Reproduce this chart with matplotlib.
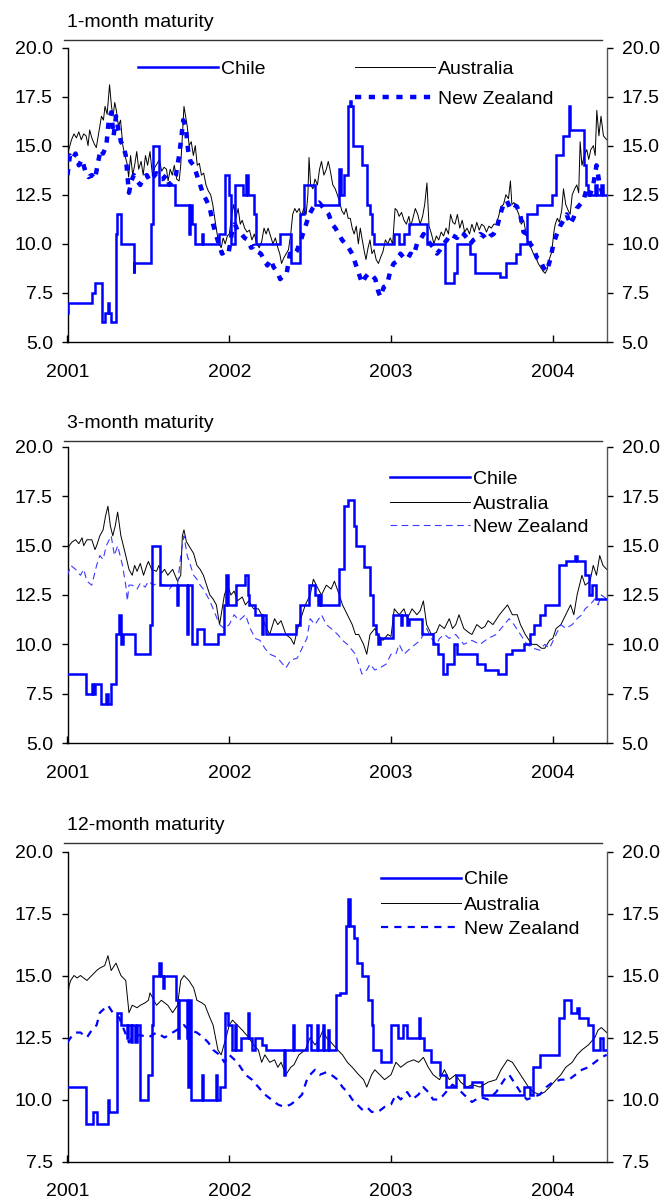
import matplotlib
matplotlib.use("Agg")
import matplotlib.pyplot as plt
from matplotlib.lines import Line2D

plt.rcParams['font.family'] = ['Liberation Sans', 'DejaVu Sans']
plt.rcParams['font.size'] = 14

W, H = 665, 1203

year_ticks = [2001, 2002, 2003, 2004]
series_names = ["Chile", "Australia", "New Zealand"]
panel_titles = ["1-month maturity", "3-month maturity", "12-month maturity"]

# ---------------- 1-month maturity ----------------
chile_1m_t = [2001.000, 2001.004, 2001.153, 2001.168, 2001.215, 2001.232, 2001.250, 2001.256,
              2001.266, 2001.300, 2001.308, 2001.330, 2001.408, 2001.414, 2001.515, 2001.530,
              2001.566, 2001.662, 2001.752, 2001.758, 2001.770, 2001.790, 2001.830, 2001.836,
              2001.935, 2001.971, 2001.996, 2002.008, 2002.033, 2002.082, 2002.106, 2002.118,
              2002.151, 2002.165, 2002.313, 2002.384, 2002.436, 2002.462, 2002.528, 2002.677,
              2002.690, 2002.710, 2002.737, 2002.745, 2002.752, 2002.765, 2002.820, 2002.850,
              2002.870, 2002.880, 2002.895, 2003.016, 2003.047, 2003.078, 2003.109, 2003.222,
              2003.335, 2003.390, 2003.410, 2003.490, 2003.520, 2003.675, 2003.710, 2003.770,
              2003.800, 2003.840, 2003.900, 2003.995, 2004.020, 2004.066, 2004.098, 2004.106,
              2004.190, 2004.205, 2004.220, 2004.260, 2004.275, 2004.300, 2004.310, 2004.335]
chile_1m_v = [6.5, 7.0, 7.5, 8.0, 6.0, 6.5, 7.0, 6.5,
              6.0, 10.5, 11.5, 10.0, 8.5, 9.0, 11.0, 15.0,
              13.0, 12.0, 10.5, 12.0, 11.0, 10.0, 10.5, 10.0,
              10.5, 13.5, 12.5, 10.0, 13.0, 12.5, 13.5, 12.5,
              11.5, 10.0, 10.5, 9.0, 11.5, 13.0, 12.0, 13.8,
              12.5, 13.5, 17.0, 17.3, 17.0, 15.0, 14.0, 12.0,
              11.5, 10.5, 10.0, 10.5, 10.0, 10.5, 11.0, 10.0,
              8.0, 8.5, 10.0, 9.5, 8.5, 8.3, 9.0, 9.5,
              10.0, 11.5, 12.0, 12.5, 14.5, 15.5, 17.0, 15.8,
              14.0, 13.0, 12.5, 13.0, 12.5, 13.0, 12.5, 12.5]

aus_1m_t = [2001.000, 2001.008, 2001.025, 2001.040, 2001.055, 2001.070, 2001.085, 2001.100,
            2001.115, 2001.127, 2001.137, 2001.150, 2001.165, 2001.178, 2001.190, 2001.200,
            2001.210, 2001.222, 2001.232, 2001.245, 2001.260, 2001.272, 2001.282, 2001.292,
            2001.302, 2001.315, 2001.328, 2001.342, 2001.355, 2001.368, 2001.378, 2001.390,
            2001.403, 2001.415, 2001.428, 2001.440, 2001.455, 2001.468, 2001.482, 2001.495,
            2001.510, 2001.525, 2001.540, 2001.555, 2001.568, 2001.582, 2001.597, 2001.612,
            2001.622, 2001.635, 2001.648, 2001.660, 2001.675, 2001.690, 2001.700, 2001.710,
            2001.720, 2001.730, 2001.740, 2001.752, 2001.765, 2001.778, 2001.790, 2001.802,
            2001.815, 2001.828, 2001.842, 2001.856, 2001.870, 2001.885, 2001.898, 2001.912,
            2001.925, 2001.938, 2001.950, 2001.962, 2001.975, 2001.988, 2002.000, 2002.016,
            2002.027, 2002.040, 2002.055, 2002.068, 2002.080, 2002.095, 2002.110, 2002.125,
            2002.140, 2002.155, 2002.170, 2002.185, 2002.200, 2002.215, 2002.228, 2002.240,
            2002.255, 2002.270, 2002.285, 2002.300, 2002.312, 2002.323, 2002.338, 2002.352,
            2002.366, 2002.380, 2002.392, 2002.405, 2002.418, 2002.432, 2002.446, 2002.460,
            2002.475, 2002.486, 2002.493, 2002.503, 2002.517, 2002.530, 2002.545, 2002.558,
            2002.570, 2002.585, 2002.600, 2002.612, 2002.625, 2002.640, 2002.655, 2002.668,
            2002.680, 2002.695, 2002.710, 2002.722, 2002.735, 2002.748, 2002.760, 2002.772,
            2002.785, 2002.798, 2002.810, 2002.822, 2002.835, 2002.845, 2002.858, 2002.870,
            2002.882, 2002.895, 2002.908, 2002.922, 2002.935, 2002.950, 2002.965, 2002.980,
            2002.995, 2003.010, 2003.025, 2003.037, 2003.050, 2003.065, 2003.080, 2003.095,
            2003.110, 2003.122, 2003.135, 2003.150, 2003.165, 2003.180, 2003.195, 2003.208,
            2003.222, 2003.235, 2003.250, 2003.265, 2003.280, 2003.295, 2003.310, 2003.325,
            2003.340, 2003.355, 2003.368, 2003.382, 2003.395, 2003.410, 2003.425, 2003.440,
            2003.455, 2003.470, 2003.485, 2003.500, 2003.515, 2003.530, 2003.545, 2003.560,
            2003.575, 2003.590, 2003.605, 2003.620, 2003.635, 2003.650, 2003.665, 2003.680,
            2003.695, 2003.710, 2003.726, 2003.738, 2003.747, 2003.760, 2003.775, 2003.790,
            2003.805, 2003.820, 2003.835, 2003.850, 2003.865, 2003.880, 2003.895, 2003.910,
            2003.925, 2003.940, 2003.953, 2003.965, 2003.978, 2003.994, 2004.005, 2004.015,
            2004.028, 2004.040, 2004.055, 2004.066, 2004.080, 2004.095, 2004.107, 2004.120,
            2004.135, 2004.148, 2004.160, 2004.169, 2004.180, 2004.195, 2004.210, 2004.222,
            2004.235, 2004.251, 2004.262, 2004.272, 2004.285, 2004.298, 2004.313, 2004.333]
aus_1m_v = [14.4, 14.8, 15.3, 15.6, 15.4, 15.7, 15.3, 15.6,
            15.5, 15.0, 15.8, 15.4, 15.1, 14.9, 15.5, 16.0,
            16.5, 16.3, 17.0, 16.6, 18.1, 17.0, 16.5, 17.2,
            16.8, 16.0, 16.3, 15.0, 14.5, 14.1, 13.4, 14.5,
            13.5, 14.0, 14.7, 13.8, 14.2, 13.5, 14.5, 14.0,
            14.7, 13.5, 13.9, 14.1, 14.3, 13.7, 13.9, 13.8,
            13.2, 13.8, 13.5, 14.0, 13.3, 13.2, 14.0, 15.5,
            17.0, 16.5, 16.0, 15.0, 15.2, 14.5, 15.0, 14.0,
            14.1, 13.5, 13.6, 13.0, 12.7, 12.5, 12.0, 11.2,
            10.5, 10.0, 9.8, 10.3, 10.0, 10.4, 10.5, 11.5,
            12.0, 11.3, 11.8, 11.0, 11.2, 10.8, 10.6, 10.7,
            10.2, 10.5, 10.0, 9.8, 10.1, 10.8, 10.5, 10.8,
            10.4, 10.0, 10.3, 9.8, 9.5, 9.0, 9.3, 9.5,
            9.7, 10.5, 11.5, 11.8, 11.6, 11.8, 11.4, 11.8,
            11.5, 12.5, 14.4, 13.0, 12.8, 13.3, 13.0, 13.8,
            14.2, 13.5, 13.8, 14.2, 13.7, 13.0, 12.8, 12.5,
            12.2, 11.7, 11.5, 11.8, 11.3, 11.3, 10.8, 10.5,
            10.9, 10.0, 10.8, 10.2, 9.6, 9.2, 9.8, 10.2,
            9.5, 9.7, 9.2, 9.0, 9.3, 9.6, 10.2, 10.0,
            10.3, 10.0, 11.8, 11.7, 11.4, 11.6, 11.2, 11.0,
            11.4, 10.9, 11.3, 11.8, 11.5, 11.0, 11.4, 12.0,
            13.1, 10.9, 10.5, 10.0, 10.4, 10.2, 10.6, 10.4,
            10.8, 10.5, 11.5, 11.1, 11.0, 11.5, 10.8, 11.2,
            10.6, 10.8, 10.5, 11.0, 10.6, 11.1, 10.7, 11.0,
            10.9, 10.6, 10.9, 10.8, 11.0, 11.0, 11.4, 11.9,
            12.0, 12.5, 12.3, 13.2, 12.0, 12.1, 11.8, 11.5,
            11.0, 11.2, 10.5, 10.0, 9.8, 9.5, 9.3, 9.0,
            8.8, 8.6, 8.5, 8.7, 9.2, 9.6, 10.5, 11.0,
            11.3, 11.1, 11.7, 12.8, 12.0, 11.7, 11.5, 12.5,
            12.8, 13.0, 12.6, 15.2, 14.0, 14.5, 14.8, 14.3,
            14.8, 15.0, 14.5, 16.8, 15.5, 16.5, 15.5, 15.3]

nz_1m_t = [2001.000, 2001.015, 2001.030, 2001.050, 2001.070, 2001.090, 2001.110, 2001.130,
           2001.150, 2001.170, 2001.190, 2001.205, 2001.220, 2001.240, 2001.255, 2001.270,
           2001.285, 2001.300, 2001.315, 2001.330, 2001.345, 2001.360, 2001.370, 2001.380,
           2001.395, 2001.410, 2001.430, 2001.450, 2001.470, 2001.490, 2001.510, 2001.530,
           2001.550, 2001.570, 2001.590, 2001.610, 2001.630, 2001.650, 2001.670, 2001.690,
           2001.705, 2001.715, 2001.730, 2001.745, 2001.760, 2001.780, 2001.800, 2001.820,
           2001.840, 2001.860, 2001.880, 2001.900, 2001.920, 2001.935, 2001.955, 2001.975,
           2001.995, 2002.015, 2002.035, 2002.055, 2002.075, 2002.095, 2002.115, 2002.135,
           2002.155, 2002.175, 2002.195, 2002.215, 2002.235, 2002.255, 2002.275, 2002.295,
           2002.315, 2002.335, 2002.355, 2002.375, 2002.395, 2002.415, 2002.435, 2002.455,
           2002.475, 2002.495, 2002.515, 2002.535, 2002.555, 2002.575, 2002.595, 2002.615,
           2002.636, 2002.656, 2002.677, 2002.697, 2002.718, 2002.738, 2002.759, 2002.780,
           2002.800, 2002.821, 2002.841, 2002.862, 2002.883, 2002.903, 2002.920, 2002.934,
           2002.955, 2002.975, 2002.995, 2003.016, 2003.037, 2003.058, 2003.078, 2003.099,
           2003.120, 2003.140, 2003.160, 2003.181, 2003.201, 2003.222, 2003.243, 2003.263,
           2003.284, 2003.304, 2003.325, 2003.346, 2003.366, 2003.387, 2003.408, 2003.428,
           2003.449, 2003.469, 2003.490, 2003.510, 2003.531, 2003.551, 2003.572, 2003.593,
           2003.613, 2003.634, 2003.654, 2003.675, 2003.695, 2003.716, 2003.737, 2003.757,
           2003.778, 2003.798, 2003.819, 2003.840, 2003.860, 2003.881, 2003.901, 2003.922,
           2003.942, 2003.963, 2003.984, 2004.004, 2004.025, 2004.045, 2004.066, 2004.086,
           2004.107, 2004.127, 2004.148, 2004.168, 2004.189, 2004.209, 2004.230, 2004.250,
           2004.270, 2004.290, 2004.310, 2004.333]
nz_1m_v = [13.5, 14.5, 14.3, 14.6, 14.0, 14.3, 13.7, 13.4,
           13.5, 13.3, 14.2, 14.8, 14.6, 15.0, 16.3, 16.7,
           15.5, 16.5, 15.8, 15.2, 15.0, 14.5, 13.5, 12.6,
           13.2, 13.5, 13.2, 13.0, 13.4, 13.5, 13.2, 13.4,
           13.6, 13.3, 13.3, 13.5, 13.0, 13.2, 13.5, 14.5,
           15.5, 16.3, 16.0, 14.8, 14.2, 14.0, 13.5, 13.0,
           12.5, 12.2, 11.8, 11.0, 10.4, 10.0, 9.5, 9.6,
           9.5, 10.5, 11.0, 10.6, 10.5, 10.3, 10.2, 9.8,
           9.9, 9.6, 9.5, 9.2, 8.9, 9.2, 8.8, 8.6,
           8.2, 8.4, 8.5, 9.5, 9.4, 9.6, 10.0, 10.5,
           11.0, 11.5, 11.8, 12.0, 12.1, 11.9, 11.7, 11.5,
           11.0, 10.8, 10.5, 10.2, 10.0, 9.8, 9.5, 9.0,
           8.5, 8.0, 8.3, 8.5, 8.4, 8.2, 7.6, 7.3,
           7.8, 7.9, 8.6, 9.0, 9.1, 9.5, 9.3, 9.2,
           9.5, 9.4, 10.0, 10.2, 10.5, 10.2, 10.0, 9.8,
           9.5, 9.7, 10.0, 10.2, 10.5, 10.4, 10.3, 10.6,
           10.5, 10.3, 10.0, 10.2, 10.3, 10.5, 10.4, 10.2,
           10.4, 10.5, 10.8, 11.5, 12.0, 12.2, 11.8, 12.0,
           11.9, 11.5, 10.6, 10.5, 10.0, 9.8, 9.3, 9.2,
           8.8, 8.6, 9.2, 10.0, 10.5, 10.9, 11.2, 11.5,
           11.0, 11.3, 11.8, 12.0, 12.2, 12.8, 12.5, 13.0,
           14.0, 13.0, 12.5, 12.4]

# ---------------- 3-month maturity ----------------
chile_3m_t = [2001.000, 2001.117, 2001.150, 2001.160, 2001.168, 2001.210, 2001.240, 2001.248,
              2001.266, 2001.300, 2001.318, 2001.333, 2001.340, 2001.415, 2001.508, 2001.525,
              2001.570, 2001.678, 2001.683, 2001.740, 2001.745, 2001.768, 2001.800, 2001.845,
              2001.852, 2001.930, 2001.965, 2001.982, 2001.995, 2002.000, 2002.040, 2002.100,
              2002.115, 2002.125, 2002.160, 2002.200, 2002.208, 2002.225, 2002.280, 2002.410,
              2002.440, 2002.490, 2002.530, 2002.550, 2002.560, 2002.570, 2002.680, 2002.710,
              2002.735, 2002.770, 2002.782, 2002.800, 2002.835, 2002.872, 2002.890, 2002.910,
              2002.922, 2002.930, 2003.010, 2003.035, 2003.060, 2003.070, 2003.100, 2003.110,
              2003.190, 2003.260, 2003.290, 2003.320, 2003.345, 2003.390, 2003.410, 2003.450,
              2003.530, 2003.580, 2003.660, 2003.710, 2003.750, 2003.820, 2003.860, 2003.885,
              2003.920, 2003.950, 2004.040, 2004.080, 2004.140, 2004.150, 2004.200, 2004.225,
              2004.245, 2004.270, 2004.335]
chile_3m_v = [8.5, 7.5, 8.0, 7.5, 8.0, 7.0, 7.5, 7.0,
              8.0, 10.5, 11.5, 10.0, 10.5, 9.5, 11.0, 15.0,
              13.0, 12.0, 13.0, 10.5, 13.0, 10.0, 10.8, 10.0,
              10.0, 10.5, 12.0, 13.5, 12.0, 12.0, 13.0, 13.5,
              12.5, 12.0, 11.5, 10.5, 11.5, 10.5, 10.5, 11.0,
              12.0, 13.0, 12.5, 12.0, 12.5, 12.0, 13.8, 17.0,
              17.3, 16.0, 15.0, 15.0, 13.9, 12.5, 11.0, 10.5,
              10.0, 10.3, 11.5, 11.5, 11.0, 11.5, 11.0, 11.3,
              10.5, 10.0, 9.5, 8.5, 9.0, 10.0, 9.5, 9.5,
              9.0, 8.7, 8.5, 9.5, 9.7, 10.0, 10.5, 11.0,
              11.5, 12.0, 14.0, 14.2, 14.5, 14.2, 13.5, 12.5,
              13.0, 12.3, 12.3]

aus_3m_t = [2001.000, 2001.010, 2001.030, 2001.050, 2001.070, 2001.090, 2001.100, 2001.120,
            2001.150, 2001.170, 2001.180, 2001.200, 2001.220, 2001.235, 2001.250, 2001.265,
            2001.280, 2001.295, 2001.310, 2001.330, 2001.345, 2001.360, 2001.380, 2001.400,
            2001.415, 2001.430, 2001.450, 2001.470, 2001.490, 2001.500, 2001.520, 2001.550,
            2001.565, 2001.580, 2001.600, 2001.620, 2001.640, 2001.650, 2001.680, 2001.700,
            2001.710, 2001.720, 2001.735, 2001.750, 2001.765, 2001.780, 2001.800, 2001.820,
            2001.840, 2001.860, 2001.880, 2001.900, 2001.920, 2001.940, 2001.950, 2001.970,
            2001.990, 2002.010, 2002.030, 2002.050, 2002.080, 2002.100, 2002.120, 2002.150,
            2002.180, 2002.200, 2002.220, 2002.250, 2002.280, 2002.300, 2002.320, 2002.350,
            2002.380, 2002.400, 2002.420, 2002.450, 2002.470, 2002.500, 2002.520, 2002.550,
            2002.570, 2002.600, 2002.630, 2002.650, 2002.680, 2002.700, 2002.730, 2002.760,
            2002.780, 2002.800, 2002.830, 2002.850, 2002.870, 2002.900, 2002.920, 2002.950,
            2002.980, 2003.000, 2003.020, 2003.050, 2003.080, 2003.100, 2003.130, 2003.160,
            2003.180, 2003.200, 2003.220, 2003.250, 2003.280, 2003.300, 2003.330, 2003.360,
            2003.380, 2003.400, 2003.420, 2003.450, 2003.480, 2003.500, 2003.530, 2003.560,
            2003.580, 2003.600, 2003.630, 2003.670, 2003.700, 2003.720, 2003.750, 2003.780,
            2003.800, 2003.830, 2003.870, 2003.900, 2003.930, 2003.950, 2003.980, 2004.000,
            2004.020, 2004.050, 2004.080, 2004.110, 2004.130, 2004.150, 2004.180, 2004.200,
            2004.230, 2004.250, 2004.270, 2004.290, 2004.310, 2004.333]
aus_3m_v = [14.5, 15.0, 15.2, 15.3, 15.1, 15.4, 15.0, 15.3,
            15.3, 14.8, 15.0, 15.5, 15.8, 16.5, 17.0, 16.0,
            15.5, 16.0, 16.7, 15.5, 15.0, 14.5, 13.8, 13.5,
            14.0, 13.7, 14.1, 13.5, 14.0, 14.2, 13.8, 13.7,
            14.0, 13.6, 13.8, 13.5, 13.7, 13.8, 13.2, 13.5,
            15.5, 15.8, 15.2, 15.0, 14.8, 14.6, 14.0, 13.8,
            13.5, 13.0, 12.5, 12.3, 12.0, 11.0, 11.5, 12.5,
            13.0, 12.5, 12.7, 12.2, 12.4, 12.0, 12.2, 11.8,
            11.8, 11.5, 11.0, 10.5, 11.3, 11.0, 11.2, 10.5,
            10.3, 10.0, 10.7, 11.5, 12.0, 12.5, 13.3, 12.8,
            12.5, 13.0, 12.8, 13.2, 12.5, 12.0, 11.5, 11.0,
            10.5, 10.5, 10.0, 9.5, 10.5, 10.8, 10.5, 10.2,
            10.5, 10.4, 11.8, 11.5, 11.8, 11.3, 11.8, 11.5,
            11.7, 12.2, 11.0, 10.5, 10.6, 11.0, 10.8, 11.3,
            10.8, 11.0, 11.5, 10.8, 10.6, 10.5, 11.0, 10.8,
            10.9, 11.2, 11.0, 11.5, 11.8, 12.0, 11.5, 11.5,
            11.0, 10.5, 10.0, 10.0, 9.8, 9.8, 10.2, 10.3,
            10.8, 11.0, 11.5, 12.0, 11.5, 12.5, 13.5, 13.0,
            13.2, 14.0, 13.5, 14.5, 14.0, 13.8]

nz_3m_t = [2001.000, 2001.020, 2001.050, 2001.080, 2001.100, 2001.120, 2001.150, 2001.180,
           2001.200, 2001.220, 2001.240, 2001.270, 2001.290, 2001.310, 2001.340, 2001.360,
           2001.370, 2001.380, 2001.400, 2001.430, 2001.450, 2001.480, 2001.500, 2001.530,
           2001.560, 2001.600, 2001.630, 2001.650, 2001.680, 2001.700, 2001.720, 2001.740,
           2001.760, 2001.780, 2001.800, 2001.820, 2001.840, 2001.860, 2001.880, 2001.900,
           2001.920, 2001.940, 2001.970, 2002.000, 2002.030, 2002.060, 2002.100, 2002.130,
           2002.160, 2002.190, 2002.220, 2002.250, 2002.280, 2002.300, 2002.330, 2002.350,
           2002.380, 2002.420, 2002.450, 2002.480, 2002.500, 2002.530, 2002.570, 2002.600,
           2002.630, 2002.670, 2002.700, 2002.730, 2002.760, 2002.780, 2002.800, 2002.820,
           2002.850, 2002.870, 2002.900, 2002.930, 2002.970, 2003.000, 2003.030, 2003.050,
           2003.080, 2003.120, 2003.150, 2003.180, 2003.200, 2003.220, 2003.250, 2003.280,
           2003.300, 2003.330, 2003.360, 2003.400, 2003.450, 2003.500, 2003.550, 2003.600,
           2003.650, 2003.700, 2003.730, 2003.760, 2003.800, 2003.840, 2003.880, 2003.920,
           2003.950, 2003.980, 2004.020, 2004.050, 2004.080, 2004.120, 2004.150, 2004.180,
           2004.200, 2004.230, 2004.260, 2004.280, 2004.300, 2004.333]
nz_3m_v = [13.5, 14.0, 13.8, 13.5, 13.8, 13.2, 13.0, 14.0,
           14.5, 14.3, 15.0, 15.5, 14.5, 15.0, 14.0, 13.0,
           12.2, 13.0, 13.0, 12.8, 13.1, 12.9, 13.2, 13.0,
           13.1, 13.0, 12.8, 13.0, 13.0, 14.5, 15.5, 14.5,
           14.0, 13.5, 13.3, 13.0, 12.8, 12.5, 12.2, 11.8,
           11.4, 11.0, 10.8, 11.0, 11.5, 11.2, 11.5, 10.8,
           10.3, 10.2, 9.8, 9.5, 9.4, 9.3, 9.0, 8.8,
           9.2, 9.3, 9.8, 10.3, 11.3, 11.0, 11.5, 11.0,
           10.8, 10.5, 10.2, 10.0, 9.7, 9.5, 9.0, 8.5,
           8.7, 9.0, 8.7, 8.8, 9.0, 9.5, 9.5, 10.0,
           9.5, 9.8, 10.0, 10.2, 10.5, 10.8, 10.3, 10.0,
           10.3, 10.5, 10.3, 10.5, 10.0, 10.2, 10.0, 10.3,
           10.5, 11.0, 11.3, 11.0, 10.5, 10.0, 9.8, 9.7,
           10.0, 9.8, 10.5, 11.0, 10.8, 11.0, 11.3, 11.5,
           11.8, 12.0, 12.3, 12.0, 12.5, 12.3]

# ---------------- 12-month maturity ----------------
chile_12m_t = [2001.000, 2001.114, 2001.159, 2001.180, 2001.250, 2001.258, 2001.305, 2001.332,
               2001.370, 2001.376, 2001.395, 2001.400, 2001.420, 2001.428, 2001.448, 2001.500,
               2001.520, 2001.530, 2001.566, 2001.576, 2001.590, 2001.596, 2001.668, 2001.680,
               2001.690, 2001.740, 2001.745, 2001.752, 2001.762, 2001.830, 2001.836, 2001.918,
               2001.924, 2001.943, 2001.973, 2001.994, 2002.014, 2002.038, 2002.044, 2002.075,
               2002.113, 2002.120, 2002.140, 2002.160, 2002.200, 2002.228, 2002.336, 2002.342,
               2002.397, 2002.403, 2002.483, 2002.503, 2002.540, 2002.548, 2002.580, 2002.586,
               2002.610, 2002.616, 2002.662, 2002.686, 2002.722, 2002.736, 2002.746, 2002.768,
               2002.790, 2002.820, 2002.855, 2002.885, 2002.890, 2002.935, 2003.000, 2003.040,
               2003.075, 2003.100, 2003.170, 2003.180, 2003.205, 2003.245, 2003.300, 2003.340,
               2003.400, 2003.450, 2003.500, 2003.560, 2003.820, 2003.860, 2003.880, 2003.920,
               2004.040, 2004.070, 2004.110, 2004.150, 2004.160, 2004.220, 2004.250, 2004.290,
               2004.310, 2004.335]
chile_12m_v = [10.5, 9.0, 9.5, 9.0, 10.0, 9.5, 13.5, 13.0,
               12.5, 13.0, 12.3, 13.0, 12.3, 13.0, 10.0, 11.0,
               13.0, 15.0, 15.5, 15.0, 14.5, 15.0, 14.0, 12.5,
               14.0, 12.5, 10.5, 14.0, 10.0, 11.0, 10.0, 11.0,
               10.0, 10.5, 13.5, 13.0, 12.0, 13.0, 12.0, 12.5,
               13.5, 12.5, 12.0, 12.5, 12.2, 12.0, 11.0, 12.0,
               13.0, 12.0, 13.0, 12.0, 13.0, 12.0, 13.0, 12.0,
               12.8, 12.0, 14.2, 14.3, 17.0, 18.1, 17.0, 16.5,
               15.5, 15.0, 14.0, 13.0, 12.0, 11.5, 13.0, 12.5,
               13.0, 12.5, 13.3, 12.5, 12.0, 11.5, 11.0, 10.5,
               11.0, 10.5, 10.7, 10.2, 10.5, 10.2, 11.3, 11.8,
               13.3, 14.0, 13.5, 13.7, 13.3, 13.0, 12.0, 12.5,
               12.0, 12.0]

aus_12m_t = [2001.000, 2001.010, 2001.020, 2001.040, 2001.060, 2001.080, 2001.100, 2001.120,
             2001.150, 2001.180, 2001.200, 2001.230, 2001.250, 2001.270, 2001.300, 2001.330,
             2001.360, 2001.380, 2001.400, 2001.430, 2001.450, 2001.480, 2001.500, 2001.510,
             2001.550, 2001.580, 2001.620, 2001.650, 2001.680, 2001.700, 2001.720, 2001.750,
             2001.780, 2001.800, 2001.830, 2001.850, 2001.880, 2001.900, 2001.930, 2001.950,
             2001.980, 2002.000, 2002.020, 2002.050, 2002.080, 2002.120, 2002.150, 2002.180,
             2002.200, 2002.220, 2002.250, 2002.280, 2002.300, 2002.320, 2002.350, 2002.380,
             2002.400, 2002.430, 2002.470, 2002.500, 2002.530, 2002.560, 2002.580, 2002.600,
             2002.630, 2002.670, 2002.700, 2002.730, 2002.760, 2002.800, 2002.830, 2002.850,
             2002.880, 2002.900, 2002.930, 2002.960, 2003.000, 2003.030, 2003.060, 2003.100,
             2003.140, 2003.170, 2003.200, 2003.230, 2003.260, 2003.300, 2003.330, 2003.360,
             2003.400, 2003.430, 2003.470, 2003.500, 2003.550, 2003.600, 2003.650, 2003.680,
             2003.720, 2003.750, 2003.780, 2003.820, 2003.850, 2003.880, 2003.920, 2003.950,
             2003.980, 2004.020, 2004.050, 2004.080, 2004.120, 2004.150, 2004.180, 2004.220,
             2004.260, 2004.280, 2004.300, 2004.333]
aus_12m_v = [14.0, 14.6, 14.8, 15.0, 14.9, 15.0, 14.9, 14.8,
             15.0, 15.2, 15.3, 15.4, 15.8, 15.2, 15.5, 15.0,
             14.8, 13.5, 13.8, 13.7, 13.8, 13.9, 14.0, 14.3,
             13.8, 14.0, 13.8, 13.5, 13.8, 14.8, 15.0, 14.8,
             14.5, 14.0, 13.9, 13.8, 13.3, 13.0, 12.0, 11.8,
             12.5, 13.0, 13.2, 13.0, 12.8, 12.5, 12.2, 12.0,
             11.5, 11.8, 11.5, 11.6, 11.3, 11.5, 11.0, 11.3,
             11.4, 11.8, 12.0, 12.5, 12.2, 12.5, 12.8, 12.5,
             12.3, 12.0, 11.8, 11.5, 11.3, 11.0, 10.8, 10.5,
             11.0, 11.2, 11.0, 10.8, 11.0, 11.5, 11.3, 11.5,
             11.6, 11.5, 11.7, 11.3, 11.0, 10.8, 11.2, 10.8,
             11.0, 10.7, 10.5, 10.6, 10.5, 10.7, 10.8, 11.2,
             11.6, 11.5, 11.2, 10.8, 10.5, 10.3, 10.2, 10.3,
             10.5, 10.8, 11.0, 11.3, 11.5, 11.8, 12.0, 12.2,
             12.5, 12.8, 12.9, 12.7]

nz_12m_t = [2001.000, 2001.020, 2001.050, 2001.080, 2001.120, 2001.150, 2001.180, 2001.200,
            2001.250, 2001.280, 2001.320, 2001.350, 2001.380, 2001.400, 2001.450, 2001.500,
            2001.550, 2001.600, 2001.650, 2001.700, 2001.720, 2001.750, 2001.800, 2001.840,
            2001.870, 2001.900, 2001.940, 2001.970, 2002.000, 2002.050, 2002.100, 2002.140,
            2002.180, 2002.220, 2002.260, 2002.300, 2002.340, 2002.380, 2002.420, 2002.450,
            2002.480, 2002.500, 2002.530, 2002.560, 2002.600, 2002.630, 2002.670, 2002.700,
            2002.730, 2002.760, 2002.790, 2002.820, 2002.850, 2002.880, 2002.920, 2002.960,
            2003.000, 2003.030, 2003.060, 2003.100, 2003.130, 2003.170, 2003.200, 2003.230,
            2003.260, 2003.300, 2003.340, 2003.380, 2003.420, 2003.450, 2003.500, 2003.550,
            2003.600, 2003.650, 2003.700, 2003.730, 2003.770, 2003.800, 2003.840, 2003.880,
            2003.920, 2003.960, 2004.000, 2004.050, 2004.100, 2004.140, 2004.180, 2004.220,
            2004.260, 2004.300, 2004.333]
nz_12m_v = [12.3, 12.5, 12.7, 12.7, 12.5, 12.8, 13.0, 13.5,
            13.8, 13.5, 13.3, 12.8, 12.3, 12.5, 12.6, 12.5,
            12.7, 12.5, 12.7, 12.9, 13.0, 12.8, 12.7, 12.5,
            12.3, 12.0, 11.8, 11.5, 11.8, 11.5, 11.0, 10.8,
            10.5, 10.2, 10.0, 9.8, 9.7, 9.8, 10.0, 10.2,
            10.8, 11.0, 11.2, 11.0, 11.1, 11.0, 10.8, 10.5,
            10.3, 10.0, 9.8, 9.6, 9.7, 9.5, 9.5, 9.7,
            9.8, 10.2, 10.0, 10.3, 10.0, 10.2, 10.5, 10.3,
            10.0, 10.0, 10.3, 10.6, 10.4, 10.2, 9.9, 10.1,
            10.0, 10.3, 10.8, 11.0, 10.6, 10.3, 10.0, 10.1,
            10.2, 10.5, 10.7, 10.8, 10.8, 11.0, 11.2, 11.3,
            11.5, 11.7, 11.8]

panels = [
    dict(title=panel_titles[0], ylim=(5.0, 20.0), rows=(47.5, 342.0), rule=40,
         chile=(chile_1m_t, chile_1m_v), aus=(aus_1m_t, aus_1m_v), nz=(nz_1m_t, nz_1m_v),
         nz_style=dict(color='#0000ff', lw=3.2, ls=(0, (1.4, 1.7))),
         legend=[(0, 138, 67), (1, 355, 67), (2, 355, 97)]),
    dict(title=panel_titles[1], ylim=(5.0, 20.0), rows=(447.0, 743.0), rule=441,
         chile=(chile_3m_t, chile_3m_v), aus=(aus_3m_t, aus_3m_v), nz=(nz_3m_t, nz_3m_v),
         nz_style=dict(color='#3a3aff', lw=0.8, ls=(0, (6, 4))),
         legend=[(0, 390, 477), (1, 390, 502), (2, 390, 525)]),
    dict(title=panel_titles[2], ylim=(7.5, 20.0), rows=(851.5, 1161.5), rule=843,
         chile=(chile_12m_t, chile_12m_v), aus=(aus_12m_t, aus_12m_v), nz=(nz_12m_t, nz_12m_v),
         nz_style=dict(color='#0000ff', lw=1.6, ls=(0, (3.2, 2.8))),
         legend=[(0, 381, 878), (1, 381, 903), (2, 381, 927)]),
]

X_LEFT, X_RIGHT = 67.5, 607.0
X_MIN, X_MAX = 2001.0, 2004.335

CHILE_STYLE = dict(color='#0000ff', lw=1.8, ls='-')
AUS_STYLE = dict(color='black', lw=0.7, ls='-')

fig = plt.figure(figsize=(W / 100, H / 100), dpi=100)

for p in panels:
    top_px, bot_px = p['rows']
    ax = fig.add_axes([X_LEFT / W, 1 - bot_px / H, (X_RIGHT - X_LEFT) / W, (bot_px - top_px) / H])
    ax.set_xlim(X_MIN, X_MAX)
    ax.set_ylim(*p['ylim'])

    st = p['nz_style']
    styles = [CHILE_STYLE, AUS_STYLE, st]

    ax.plot(*p['aus'], color=AUS_STYLE['color'], lw=AUS_STYLE['lw'], zorder=2)
    ax.plot(*p['nz'], color=st['color'], lw=st['lw'], linestyle=st['ls'],
            dash_capstyle='butt', zorder=3)
    ax.plot(*p['chile'], drawstyle='steps-post', color=CHILE_STYLE['color'],
            lw=CHILE_STYLE['lw'], solid_joinstyle='miter', zorder=4)

    lo, hi = p['ylim']
    yt = []
    v = lo
    while v <= hi + 1e-9:
        yt.append(v)
        v += 2.5
    ax.set_yticks(yt)
    ax.set_yticklabels([f"{t:.1f}" for t in yt])
    ax.set_xticks(year_ticks)
    ax.set_xticklabels([str(y) for y in year_ticks])

    ax.spines['top'].set_visible(False)
    for s in ('left', 'right', 'bottom'):
        ax.spines[s].set_linewidth(1.0)
        ax.spines[s].set_color('black')
    ax.spines['right'].set_color('#555555')

    ax.tick_params(axis='y', which='both', direction='out', length=4, width=1,
                   left=True, right=True, labelleft=True, labelright=True, pad=6.5,
                   labelsize=14)
    ax.tick_params(axis='x', direction='in', length=5, width=1, pad=15.5, labelsize=14,
                   top=False)

    # header rule and panel subtitle
    y_rule = 1 - p['rule'] / H
    fig.add_artist(Line2D([64 / W, 602 / W], [y_rule, y_rule], color='#333333', lw=1.0))
    fig.text(67 / W, 1 - (p['rule'] - 13) / H, p['title'], fontsize=14, ha='left',
             va='baseline')

    # legend entries: line sample followed by the series name
    for idx, x0, yc in p['legend']:
        s = styles[idx]
        yy = 1 - yc / H
        fig.add_artist(Line2D([x0 / W, (x0 + 80) / W], [yy, yy], color=s['color'],
                              lw=s['lw'], linestyle=s['ls'], dash_capstyle='butt'))
        fig.text((x0 + 83) / W, yy, series_names[idx], fontsize=14, ha='left',
                 va='center_baseline')

fig.savefig("out.png", dpi=100)
